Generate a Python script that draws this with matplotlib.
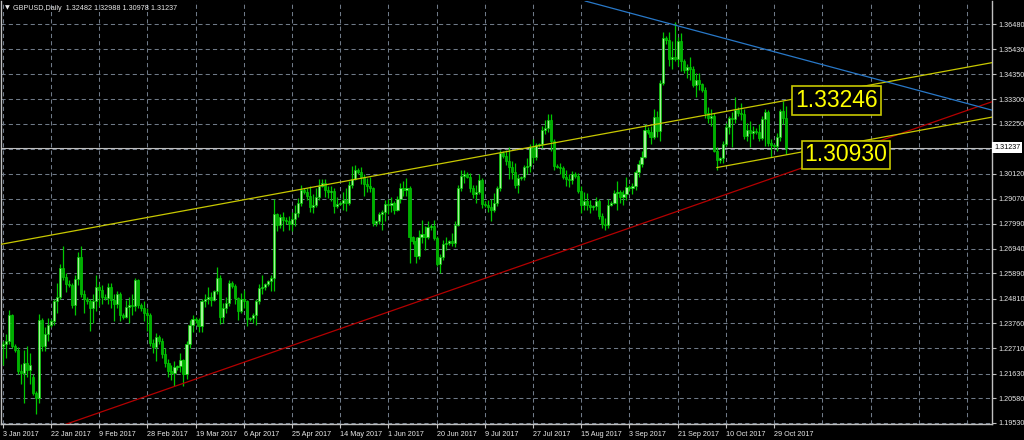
import numpy as np
import matplotlib
matplotlib.use('Agg')
import matplotlib.pyplot as plt

# GBPUSD daily candles, 3 Jan 2017 .. 2 Nov 2017 (Sun..Fri bars)
opens = [
    1.2280, 1.2290, 1.2300, 1.2410,
    1.2280, 1.2265, 1.2175, 1.2165, 1.2210, 1.2180,
    1.2150, 1.2080, 1.2060, 1.2390, 1.2280, 1.2330,
    1.2370, 1.2385, 1.2470, 1.2490, 1.2610, 1.2575,
    1.2545, 1.2540, 1.2455, 1.2565, 1.2660, 1.2500,
    1.2480, 1.2470, 1.2440, 1.2470, 1.2530, 1.2520,
    1.2490, 1.2485, 1.2530, 1.2475, 1.2460, 1.2500,
    1.2410, 1.2405, 1.2445, 1.2455, 1.2450, 1.2560,
    1.2455, 1.2440, 1.2420, 1.2410, 1.2295, 1.2275,
    1.2320, 1.2300, 1.2245, 1.2210, 1.2175, 1.2165,
    1.2190, 1.2195, 1.2220, 1.2160, 1.2290, 1.2370,
    1.2395, 1.2390, 1.2365, 1.2470, 1.2480, 1.2490,
    1.2475, 1.2515, 1.2570, 1.2405, 1.2440, 1.2465,
    1.2550, 1.2535, 1.2485, 1.2430, 1.2480, 1.2470,
    1.2395, 1.2400, 1.2410, 1.2470, 1.2525, 1.2530,
    1.2545, 1.2555, 1.2570, 1.2840, 1.2795, 1.2830,
    1.2815, 1.2810, 1.2800, 1.2820, 1.2845, 1.2890,
    1.2945, 1.2935, 1.2920, 1.2870, 1.2880, 1.2915,
    1.2960, 1.2975, 1.2945, 1.2935, 1.2940, 1.2875,
    1.2885, 1.2890, 1.2900, 1.2890, 1.2965, 1.2990,
    1.3030, 1.3020, 1.3000, 1.2970, 1.2960, 1.2950,
    1.2805, 1.2810, 1.2840, 1.2850, 1.2885, 1.2880,
    1.2890, 1.2860, 1.2905, 1.2950, 1.2945, 1.2950,
    1.2745, 1.2725, 1.2665, 1.2745, 1.2755, 1.2745,
    1.2785, 1.2790, 1.2740, 1.2630, 1.2660, 1.2715,
    1.2720, 1.2725, 1.2720, 1.2795, 1.2950, 1.3005,
    1.3010, 1.3000, 1.2950, 1.2925, 1.2935, 1.2985,
    1.2885, 1.2880, 1.2870, 1.2860, 1.2890, 1.2950,
    1.3100, 1.3090, 1.3065, 1.3040, 1.3020, 1.2965,
    1.2995, 1.3000, 1.3040, 1.3045, 1.3125, 1.3085,
    1.3135, 1.3140, 1.3200, 1.3205, 1.3240, 1.3150,
    1.3045, 1.3040, 1.3035, 1.3000, 1.2990, 1.2985,
    1.3010, 1.3005, 1.2940, 1.2880, 1.2895, 1.2880,
    1.2870, 1.2875, 1.2895, 1.2835, 1.2800, 1.2795,
    1.2880, 1.2890, 1.2930, 1.2935, 1.2915, 1.2925,
    1.2955, 1.2950, 1.2960, 1.3020, 1.3055, 1.3085,
    1.3200, 1.3190, 1.3170, 1.3255, 1.3195, 1.3400,
    1.3590, 1.3580, 1.3500, 1.3510, 1.3500, 1.3575,
    1.3490, 1.3455, 1.3465, 1.3460, 1.3390, 1.3410,
    1.3395, 1.3370, 1.3270, 1.3250, 1.3260, 1.3110,
    1.3070, 1.3080, 1.3140, 1.3210, 1.3250, 1.3245,
    1.3285, 1.3270, 1.3265, 1.3175, 1.3200, 1.3185,
    1.3195, 1.3190, 1.3165, 1.3245, 1.3275, 1.3145,
    1.3135, 1.3130, 1.3170, 1.3280, 1.32482,
]
highs = [
    1.2300, 1.2333, 1.2433, 1.2415,
    1.2290, 1.2275, 1.2205, 1.2265, 1.2280, 1.2250,
    1.2160, 1.2090, 1.2417, 1.2400, 1.2360, 1.2400,
    1.2395, 1.2480, 1.2546, 1.2630, 1.2706, 1.2590,
    1.2560, 1.2550, 1.2580, 1.2680, 1.2706, 1.2520,
    1.2490, 1.2480, 1.2500, 1.2580, 1.2545, 1.2540,
    1.2500, 1.2550, 1.2550, 1.2500, 1.2515, 1.2510,
    1.2420, 1.2475, 1.2490, 1.2500, 1.2570, 1.2565,
    1.2465, 1.2470, 1.2440, 1.2420, 1.2310, 1.2335,
    1.2325, 1.2315, 1.2270, 1.2225, 1.2200, 1.2215,
    1.2200, 1.2250, 1.2225, 1.2300, 1.2390, 1.2410,
    1.2405, 1.2400, 1.2480, 1.2500, 1.2530, 1.2510,
    1.2520, 1.2615, 1.2580, 1.2465, 1.2490, 1.2560,
    1.2555, 1.2545, 1.2490, 1.2505, 1.2520, 1.2475,
    1.2405, 1.2420, 1.2480, 1.2545, 1.2580, 1.2550,
    1.2560, 1.2580, 1.2905, 1.2845, 1.2840, 1.2850,
    1.2830, 1.2835, 1.2850, 1.2880, 1.2910, 1.2965,
    1.2950, 1.2950, 1.2960, 1.2925, 1.2950, 1.2990,
    1.2990, 1.2990, 1.2960, 1.2960, 1.2950, 1.2915,
    1.2895, 1.2935, 1.2950, 1.2980, 1.3045, 1.3048,
    1.3035, 1.3040, 1.3010, 1.2995, 1.3000, 1.2955,
    1.2815, 1.2850, 1.2860, 1.2900, 1.2905, 1.2915,
    1.2895, 1.2920, 1.2975, 1.2980, 1.2995, 1.2960,
    1.2750, 1.2745, 1.2775, 1.2815, 1.2790, 1.2810,
    1.2800, 1.2815, 1.2750, 1.2670, 1.2730, 1.2745,
    1.2730, 1.2760, 1.2810, 1.2965, 1.3030, 1.3030,
    1.3020, 1.3015, 1.2965, 1.2965, 1.3010, 1.2995,
    1.2895, 1.2900, 1.2905, 1.2930, 1.2960, 1.3115,
    1.3110, 1.3115, 1.3126, 1.3065, 1.3060, 1.3010,
    1.3005, 1.3050, 1.3080, 1.3140, 1.3160, 1.3145,
    1.3145, 1.3215, 1.3240, 1.3265, 1.3268, 1.3160,
    1.3055, 1.3060, 1.3045, 1.3030, 1.3010, 1.3025,
    1.3020, 1.3015, 1.2960, 1.2935, 1.2930, 1.2900,
    1.2880, 1.2915, 1.2905, 1.2845, 1.2825, 1.2905,
    1.2895, 1.2945, 1.2980, 1.2945, 1.2945, 1.3000,
    1.2965, 1.2975, 1.3030, 1.3070, 1.3110, 1.3225,
    1.3210, 1.3215, 1.3290, 1.3280, 1.3410, 1.3616,
    1.3600, 1.3615, 1.3575, 1.3657, 1.3595, 1.3610,
    1.3500, 1.3480, 1.3510, 1.3470, 1.3440, 1.3440,
    1.3400, 1.3380, 1.3295, 1.3290, 1.3270, 1.3125,
    1.3085, 1.3150, 1.3230, 1.3260, 1.3275, 1.3338,
    1.3295, 1.3315, 1.3290, 1.3230, 1.3235, 1.3215,
    1.3205, 1.3225, 1.3260, 1.3290, 1.3285, 1.3160,
    1.3140, 1.3185, 1.3290, 1.3320, 1.32988,
]
lows = [
    1.2200, 1.2230, 1.2290, 1.2270,
    1.2255, 1.2160, 1.2120, 1.2040, 1.2150, 1.2120,
    1.2070, 1.1990, 1.2040, 1.2260, 1.2260, 1.2300,
    1.2360, 1.2370, 1.2420, 1.2480, 1.2560, 1.2510,
    1.2530, 1.2440, 1.2410, 1.2540, 1.2490, 1.2420,
    1.2460, 1.2345, 1.2380, 1.2430, 1.2450, 1.2460,
    1.2475, 1.2460, 1.2440, 1.2385, 1.2440, 1.2385,
    1.2395, 1.2400, 1.2380, 1.2410, 1.2430, 1.2440,
    1.2430, 1.2385, 1.2345, 1.2280, 1.2250, 1.2215,
    1.2290, 1.2230, 1.2190, 1.2150, 1.2135, 1.2110,
    1.2180, 1.2170, 1.2110, 1.2140, 1.2270, 1.2340,
    1.2380, 1.2340, 1.2340, 1.2445, 1.2460, 1.2450,
    1.2470, 1.2500, 1.2375, 1.2380, 1.2420, 1.2450,
    1.2525, 1.2460, 1.2390, 1.2420, 1.2440, 1.2365,
    1.2385, 1.2380, 1.2370, 1.2460, 1.2500, 1.2520,
    1.2535, 1.2515, 1.2515, 1.2770, 1.2780, 1.2770,
    1.2800, 1.2775, 1.2770, 1.2790, 1.2830, 1.2875,
    1.2925, 1.2900, 1.2850, 1.2845, 1.2870, 1.2900,
    1.2955, 1.2915, 1.2910, 1.2895, 1.2845, 1.2865,
    1.2880, 1.2860, 1.2855, 1.2880, 1.2950, 1.2985,
    1.3010, 1.2970, 1.2920, 1.2935, 1.2935, 1.2790,
    1.2790, 1.2800, 1.2775, 1.2810, 1.2840, 1.2850,
    1.2840, 1.2855, 1.2890, 1.2920, 1.2920, 1.2635,
    1.2715, 1.2635, 1.2650, 1.2720, 1.2690, 1.2735,
    1.2775, 1.2730, 1.2620, 1.2590, 1.2645, 1.2690,
    1.2710, 1.2705, 1.2700, 1.2790, 1.2940, 1.2975,
    1.2995, 1.2935, 1.2910, 1.2890, 1.2925, 1.2865,
    1.2870, 1.2850, 1.2812, 1.2850, 1.2875, 1.2940,
    1.3080, 1.3050, 1.2990, 1.2990, 1.2950, 1.2930,
    1.2985, 1.2985, 1.3010, 1.3020, 1.3060, 1.3070,
    1.3125, 1.3120, 1.3180, 1.3190, 1.3110, 1.3030,
    1.3035, 1.3010, 1.2990, 1.2960, 1.2955, 1.2970,
    1.2995, 1.2930, 1.2845, 1.2860, 1.2860, 1.2845,
    1.2860, 1.2860, 1.2820, 1.2780, 1.2772, 1.2780,
    1.2875, 1.2885, 1.2860, 1.2890, 1.2880, 1.2900,
    1.2940, 1.2925, 1.2945, 1.3000, 1.3040, 1.3080,
    1.3180, 1.3140, 1.3160, 1.3170, 1.3150, 1.3390,
    1.3565, 1.3470, 1.3460, 1.3490, 1.3470, 1.3450,
    1.3440, 1.3420, 1.3410, 1.3380, 1.3340, 1.3370,
    1.3360, 1.3250, 1.3230, 1.3215, 1.3105, 1.3027,
    1.3060, 1.3060, 1.3130, 1.3180, 1.3125, 1.3230,
    1.3260, 1.3240, 1.3160, 1.3150, 1.3125, 1.3160,
    1.3180, 1.3150, 1.3155, 1.3130, 1.3130, 1.3085,
    1.3120, 1.3110, 1.3150, 1.3225, 1.30978,
]
closes = [
    1.2290, 1.2300, 1.2410, 1.2280,
    1.2265, 1.2175, 1.2165, 1.2210, 1.2180, 1.2200,
    1.2080, 1.2060, 1.2390, 1.2280, 1.2330, 1.2370,
    1.2385, 1.2470, 1.2490, 1.2610, 1.2575, 1.2545,
    1.2540, 1.2455, 1.2565, 1.2660, 1.2500, 1.2480,
    1.2470, 1.2440, 1.2470, 1.2530, 1.2520, 1.2490,
    1.2485, 1.2530, 1.2475, 1.2460, 1.2500, 1.2410,
    1.2405, 1.2445, 1.2455, 1.2450, 1.2560, 1.2455,
    1.2440, 1.2420, 1.2410, 1.2295, 1.2275, 1.2320,
    1.2300, 1.2245, 1.2210, 1.2175, 1.2165, 1.2190,
    1.2195, 1.2220, 1.2160, 1.2290, 1.2370, 1.2395,
    1.2390, 1.2365, 1.2470, 1.2480, 1.2490, 1.2475,
    1.2515, 1.2570, 1.2405, 1.2440, 1.2465, 1.2550,
    1.2535, 1.2485, 1.2430, 1.2480, 1.2470, 1.2395,
    1.2400, 1.2410, 1.2470, 1.2525, 1.2530, 1.2545,
    1.2555, 1.2570, 1.2840, 1.2795, 1.2830, 1.2815,
    1.2810, 1.2800, 1.2820, 1.2845, 1.2890, 1.2945,
    1.2935, 1.2920, 1.2870, 1.2880, 1.2915, 1.2960,
    1.2975, 1.2945, 1.2935, 1.2940, 1.2875, 1.2885,
    1.2890, 1.2900, 1.2890, 1.2965, 1.2990, 1.3030,
    1.3020, 1.3000, 1.2970, 1.2960, 1.2950, 1.2805,
    1.2810, 1.2840, 1.2850, 1.2885, 1.2880, 1.2890,
    1.2860, 1.2905, 1.2950, 1.2945, 1.2950, 1.2745,
    1.2725, 1.2665, 1.2745, 1.2755, 1.2745, 1.2785,
    1.2790, 1.2740, 1.2630, 1.2660, 1.2715, 1.2720,
    1.2725, 1.2720, 1.2795, 1.2950, 1.3005, 1.3010,
    1.3000, 1.2950, 1.2925, 1.2935, 1.2985, 1.2885,
    1.2880, 1.2870, 1.2860, 1.2890, 1.2950, 1.3100,
    1.3090, 1.3065, 1.3040, 1.3020, 1.2965, 1.2995,
    1.3000, 1.3040, 1.3045, 1.3125, 1.3085, 1.3135,
    1.3140, 1.3200, 1.3205, 1.3240, 1.3150, 1.3045,
    1.3040, 1.3035, 1.3000, 1.2990, 1.2985, 1.3010,
    1.3005, 1.2940, 1.2880, 1.2895, 1.2880, 1.2870,
    1.2875, 1.2895, 1.2835, 1.2800, 1.2795, 1.2880,
    1.2890, 1.2930, 1.2935, 1.2915, 1.2925, 1.2955,
    1.2950, 1.2960, 1.3020, 1.3055, 1.3085, 1.3200,
    1.3190, 1.3170, 1.3255, 1.3195, 1.3400, 1.3590,
    1.3580, 1.3500, 1.3510, 1.3500, 1.3575, 1.3490,
    1.3455, 1.3465, 1.3460, 1.3390, 1.3410, 1.3395,
    1.3370, 1.3270, 1.3250, 1.3260, 1.3110, 1.3070,
    1.3080, 1.3140, 1.3210, 1.3250, 1.3245, 1.3285,
    1.3270, 1.3265, 1.3175, 1.3200, 1.3185, 1.3195,
    1.3190, 1.3165, 1.3245, 1.3275, 1.3145, 1.3135,
    1.3130, 1.3170, 1.3280, 1.3248, 1.31237,
]

date_labels = ['3 Jan 2017', '22 Jan 2017', '9 Feb 2017', '28 Feb 2017', '19 Mar 2017',
               '6 Apr 2017', '25 Apr 2017', '14 May 2017', '1 Jun 2017', '20 Jun 2017',
               '9 Jul 2017', '27 Jul 2017', '15 Aug 2017', '3 Sep 2017', '21 Sep 2017',
               '10 Oct 2017', '29 Oct 2017']
price_ticks = [1.19530, 1.20580, 1.21630, 1.22710, 1.23760, 1.24810, 1.25890, 1.26940,
               1.27990, 1.29070, 1.30120, 1.31170, 1.32250, 1.33300, 1.34350, 1.35430, 1.36480]

# trendline anchors (bar index, price)
upper_yellow = [(0, 1.2714), (260, 1.33246)]
lower_yellow = [(237, 1.3039), (260, 1.30930)]
red_line = [(21.3, 1.1949), (260, 1.3014)]
blue_line = [(223, 1.3645), (328, 1.3284)]
level_labels = ['1.33246', '1.30930']
level_label_x = [263, 266]
bid = 1.31237

BG = 'black'
WICK = '#00c800'
BULL = '#a6f59a'
BEAR = '#00b000'
AXIS = '#c0c0c0'
GRIDC = '#6f7a88'
TXT = '#e8e8e8'
FONT = 'Liberation Sans'
SMALL = 5.2

o = np.array(opens); h = np.array(highs); l = np.array(lows); c = np.array(closes)
x = np.arange(len(c))

fig = plt.figure(figsize=(10.24, 4.40), dpi=100, facecolor=BG)
ax = fig.add_axes([1/1024, 16/440, 991/1024, 423/440], facecolor=BG)

xmin, xmax = -0.56, 328.3
ymin, ymax = 1.19486, 1.37471
ax.set_xlim(xmin, xmax)
ax.set_ylim(ymin, ymax)

# grid
ax.set_xticks(np.arange(0, 16 * len(date_labels), 16))
ax.set_xticklabels(date_labels)
ax.set_xticks(np.arange(16 * len(date_labels), xmax, 16), minor=True)
ax.set_yticks(price_ticks)
# the tick next to the bid price is hidden behind the bid label
ax.set_yticklabels(['' if abs(p - bid) < 0.003 else '%.5f' % p for p in price_ticks])
ax.grid(True, which='both', color=GRIDC, lw=0.75, ls=(0, (4, 3)), zorder=0)
ax.set_axisbelow(True)

ax.yaxis.tick_right()
ax.tick_params(axis='y', which='major', colors=AXIS, length=3, width=0.8, pad=1.5,
               labelcolor=TXT, labelsize=SMALL)
ax.tick_params(axis='x', which='major', colors=AXIS, length=3, width=0.8, pad=2,
               labelcolor=TXT, labelsize=SMALL)
ax.tick_params(axis='x', which='minor', length=0)
for lbl in ax.get_xticklabels():
    lbl.set_ha('left')
    lbl.set_fontfamily(FONT)
for lbl in ax.get_yticklabels():
    lbl.set_fontfamily(FONT)

for side in ['right', 'bottom', 'left']:
    ax.spines[side].set_color(AXIS)
    ax.spines[side].set_linewidth(1)
ax.spines['top'].set_visible(False)

# candles
ax.vlines(x, l, h, color=WICK, lw=0.9, zorder=3)
up = c >= o
body = np.maximum(np.abs(c - o), 0.00012)
ax.bar(x[up], body[up], bottom=o[up], width=0.72, color=BULL, edgecolor=WICK, lw=0.5, zorder=4)
ax.bar(x[~up], body[~up], bottom=c[~up], width=0.72, color=BEAR, edgecolor=WICK, lw=0.5, zorder=4)

# bid line
ax.axhline(bid, color=AXIS, lw=0.8, zorder=2)
ax.text(1.002, bid, '%.5f' % bid, transform=ax.get_yaxis_transform(), ha='left', va='center',
        fontsize=SMALL, family=FONT, color='black', clip_on=False, zorder=20,
        bbox=dict(boxstyle='square,pad=0.3', fc='white', ec='white', lw=0))

# trendlines
ax.axline(*upper_yellow, color='#c8c800', lw=0.9, zorder=5)
ax.axline(*red_line, color='#b40000', lw=0.9, zorder=5)
ax.axline(*blue_line, color='#2878c8', lw=0.9, zorder=5)
(x0, y0), (x1, y1) = lower_yellow
slope = (y1 - y0) / (x1 - x0)
ax.plot([x0, xmax], [y0, y0 + slope * (xmax - x0)], color='#c8c800', lw=0.9, zorder=5)

# level labels
for txt, lx in zip(level_labels, level_label_x):
    ax.text(lx, float(txt), txt, ha='left', va='center', fontsize=16.5, family=FONT,
            color='#ffff00', zorder=10,
            bbox=dict(boxstyle='square,pad=0.12', fc='black', ec='#c8c800', lw=1.2))

# title
fig.text(5/1024, 1 - 8/440, '\u25bc', color=TXT, fontsize=4.5, family='DejaVu Sans', va='center')
fig.text(13/1024, 1 - 8/440, 'GBPUSD,Daily  1.32482 1.32988 1.30978 1.31237',
         color=TXT, fontsize=SMALL, family=FONT, va='center')

fig.savefig('out.png', dpi=100, facecolor=BG)
